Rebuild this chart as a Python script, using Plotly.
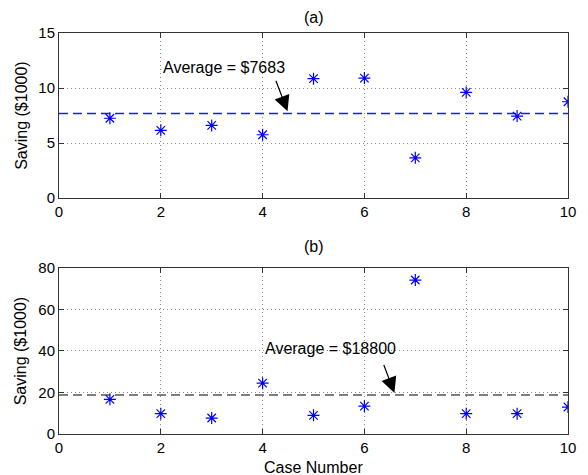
import plotly.graph_objects as go
from plotly.subplots import make_subplots

# Savings per case, in thousands of dollars
cases = [1, 2, 3, 4, 5, 6, 7, 8, 9, 10]
saving_a = [7.25, 6.15, 6.6, 5.75, 10.85, 10.9, 3.65, 9.6, 7.45, 8.75]
saving_b = [16.7, 9.8, 7.7, 24.5, 9.0, 13.4, 74.2, 9.8, 9.8, 13.0]
avg_a = 7.683
avg_b = 18.8
label_a = "Average = $7683"
label_b = "Average = $18800"

FONT = "Liberation Sans, Arial, sans-serif"
TXT = dict(family=FONT, size=16, color="black")

fig = make_subplots(rows=2, cols=1, vertical_spacing=0.0)

star = dict(symbol="asterisk-open", size=10, color="#0000ff",
            line=dict(color="#0000ff", width=1.2))

fig.add_trace(go.Scatter(x=[0, 10], y=[avg_a, avg_a], mode="lines",
                         line=dict(color="#1a1aff", dash="9px,5px", width=1.4),
                         showlegend=False), row=1, col=1)
fig.add_trace(go.Scatter(x=cases, y=saving_a, mode="markers", marker=star,
                         showlegend=False), row=1, col=1)

fig.add_trace(go.Scatter(x=[0, 10], y=[avg_b, avg_b], mode="lines",
                         line=dict(color="#000000", dash="9px,5px", width=1.2),
                         showlegend=False), row=2, col=1)
fig.add_trace(go.Scatter(x=cases, y=saving_b, mode="markers", marker=star,
                         showlegend=False), row=2, col=1)

axis_common = dict(
    showline=True, linecolor="#333333", linewidth=1, mirror="allticks",
    ticks="inside", ticklen=5, tickcolor="#333333",
    showgrid=True, gridcolor="#8a8a8a", griddash="1px,3px", gridwidth=1,
    zeroline=False, tickfont=dict(family=FONT, size=15, color="black"),
)

fig.update_xaxes(range=[0, 10], dtick=2, **axis_common)
fig.update_yaxes(**axis_common)
fig.update_yaxes(range=[0, 15], dtick=5, row=1, col=1)
fig.update_yaxes(range=[0, 80], dtick=20, row=2, col=1)

fig.update_layout(
    width=588, height=475,
    margin=dict(l=59, r=17, t=33, b=41),
    paper_bgcolor="white", plot_bgcolor="white",
    xaxis=dict(domain=[0, 1]),
    yaxis=dict(domain=[0.5885, 1.0]),
    xaxis2=dict(domain=[0, 1]),
    yaxis2=dict(domain=[0.0, 0.414]),
)

anns = [
    dict(text="(a)", x=0.5, y=1.0, xref="paper", yref="paper", yshift=16,
         yanchor="middle", showarrow=False, font=TXT),
    dict(text="(b)", x=0.5, y=0.414, xref="paper", yref="paper", yshift=21,
         yanchor="middle", showarrow=False, font=TXT),
    dict(text="Saving ($1000)", x=-0.074, y=(0.5885 + 1.0) / 2, xref="paper",
         yref="paper", xanchor="center", yanchor="middle", textangle=-90,
         showarrow=False, font=TXT),
    dict(text="Saving ($1000)", x=-0.074, y=0.414 / 2, xref="paper",
         yref="paper", xanchor="center", yanchor="middle", textangle=-90,
         showarrow=False, font=TXT),
    dict(text="Case Number", x=0.5, y=0.0, xref="paper", yref="paper",
         yshift=-33, yanchor="middle", showarrow=False, font=TXT),
    dict(text=label_a, x=2.01, y=11.9, xref="x", yref="y", xanchor="left",
         showarrow=False, font=TXT),
    dict(text="", x=4.49, y=avg_a + 0.2, xref="x", yref="y",
         ax=4.25, ay=10.8, axref="x", ayref="y",
         showarrow=True, arrowhead=2, arrowsize=2.6, arrowwidth=1.2, arrowcolor="black"),
    dict(text=label_b, x=4.01, y=41.0, xref="x2", yref="y2", xanchor="left",
         showarrow=False, font=TXT),
    dict(text="", x=6.59, y=avg_b + 1.0, xref="x2", yref="y2",
         ax=6.37, ay=34.0, axref="x2", ayref="y2",
         showarrow=True, arrowhead=2, arrowsize=2.6, arrowwidth=1.2, arrowcolor="black"),
]
fig.update_layout(annotations=anns)

fig.write_html("out.html")
